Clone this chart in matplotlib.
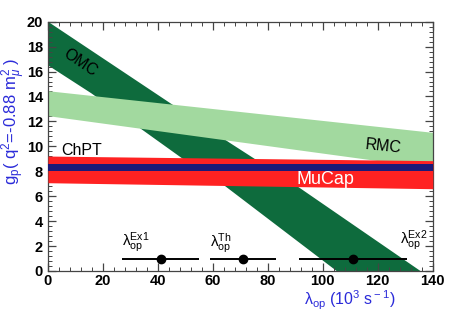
import matplotlib
matplotlib.use("Agg")
import matplotlib.pyplot as plt
from matplotlib.ticker import MultipleLocator

plt.rcParams['font.family'] = ['Liberation Sans', 'DejaVu Sans']
plt.rcParams['mathtext.fontset'] = 'custom'
plt.rcParams['mathtext.rm'] = 'Liberation Sans'
plt.rcParams['mathtext.it'] = 'Liberation Sans:italic'
plt.rcParams['mathtext.bf'] = 'Liberation Sans:bold'

# OMC band (dark green): upper and lower edges
omc_up_x = [0, 66, 91, 135.5]
omc_up_y = [20, 10.3, 6.75, 0]
omc_lo_x = [0, 15.8, 33.4, 48.6, 64.5, 105]
omc_lo_y = [16.5, 14.25, 11.47, 9.07, 6.8, 0]

# RMC band (light green)
rmc_x = [0, 140]
rmc_up = [14.46, 11.12]
rmc_lo = [12.46, 8.25]

# MuCap band (red) and ChPT band (blue)
mucap_x = [0, 140]
mucap_up = [9.22, 8.85]
mucap_lo = [7.08, 6.6]
chpt_up = [8.62, 8.62]
chpt_lo = [8.06, 8.06]

# lambda_op points
lam_names = ['Ex1', 'Th', 'Ex2']
lam_val = [41.0, 71.0, 111.0]
lam_err = [14.0, 12.0, 19.6]
lam_y = [1.0, 1.0, 1.0]

dark_green = '#0e6b3d'
light_green = '#a2d99f'
red = '#ff2222'
navy = '#1c1a78'
blue = '#2b2bd9'

fig = plt.figure(figsize=(4.57, 3.14), dpi=100)
ax = fig.add_axes([0.105, 0.137, 0.842, 0.794])

# OMC polygon
xs = omc_up_x + omc_lo_x[::-1]
ys = omc_up_y + omc_lo_y[::-1]
ax.fill(xs, ys, color=dark_green, lw=0, zorder=1)
ax.fill_between(rmc_x, rmc_lo, rmc_up, color=light_green, lw=0, zorder=2)
ax.fill_between(mucap_x, mucap_lo, mucap_up, color=red, lw=0, zorder=3)
ax.fill_between(mucap_x, chpt_lo, chpt_up, color=navy, lw=0, zorder=4)

ax.errorbar(lam_val, lam_y, xerr=lam_err, fmt='o', color='black',
            ms=6, elinewidth=1.4, capsize=0, zorder=6)

for name, v, e, y in zip(lam_names, lam_val, lam_err, lam_y):
    lbl = r'$\mathrm{\lambda}_{\rm op}^{\rm %s}$' % name
    if name == 'Ex2':
        ax.text(v + e - 2.5, y + 0.45, lbl, ha='left', va='bottom',
                fontsize=11, zorder=7)
    else:
        ax.text(v - e, y + 0.25, lbl, ha='left', va='bottom',
                fontsize=11, zorder=7)

ax.text(11.7, 16.7, 'OMC', rotation=-34, ha='center', va='center',
        fontsize=11.5, zorder=7)
ax.text(122, 10.0, 'RMC', rotation=-6, ha='center', va='center',
        fontsize=11.5, zorder=7)
ax.text(5, 9.05, 'ChPT', ha='left', va='bottom', fontsize=11.5, zorder=7)
ax.text(101, 7.35, 'MuCap', ha='center', va='center', color='white',
        fontsize=13, zorder=7)

ax.set_xlim(0, 140)
ax.set_ylim(0, 20)
ax.xaxis.set_major_locator(MultipleLocator(20))
ax.xaxis.set_minor_locator(MultipleLocator(4))
ax.yaxis.set_major_locator(MultipleLocator(2))
ax.yaxis.set_minor_locator(MultipleLocator(0.4))
ax.tick_params(which='both', direction='in', top=True, right=True,
               color='#444444')
ax.tick_params(which='major', length=6, width=0.9, labelsize=10.5)
ax.tick_params(axis='x', which='major', pad=2)
ax.tick_params(which='minor', length=3, width=0.7)
for lab in ax.get_xticklabels() + ax.get_yticklabels():
    lab.set_fontweight('bold')
for s in ax.spines.values():
    s.set_color('#444444')
    s.set_linewidth(0.9)

fig.text(395 / 457, 1 - 305 / 314,
         r'$\mathrm{\lambda}_{\rm op}$ (10$^{3}$ s$^{\rm -1}$)',
         ha='right', va='baseline', color=blue, fontsize=11.5)
fig.text(14 / 457, 1 - 58 / 314,
         r'g$_{\rm p}$( q$^{2}$=-0.88 m$_{\mu}^{2}$ )',
         rotation=90, ha='center', va='top', color=blue, fontsize=12)

fig.savefig('out.png', dpi=100)
